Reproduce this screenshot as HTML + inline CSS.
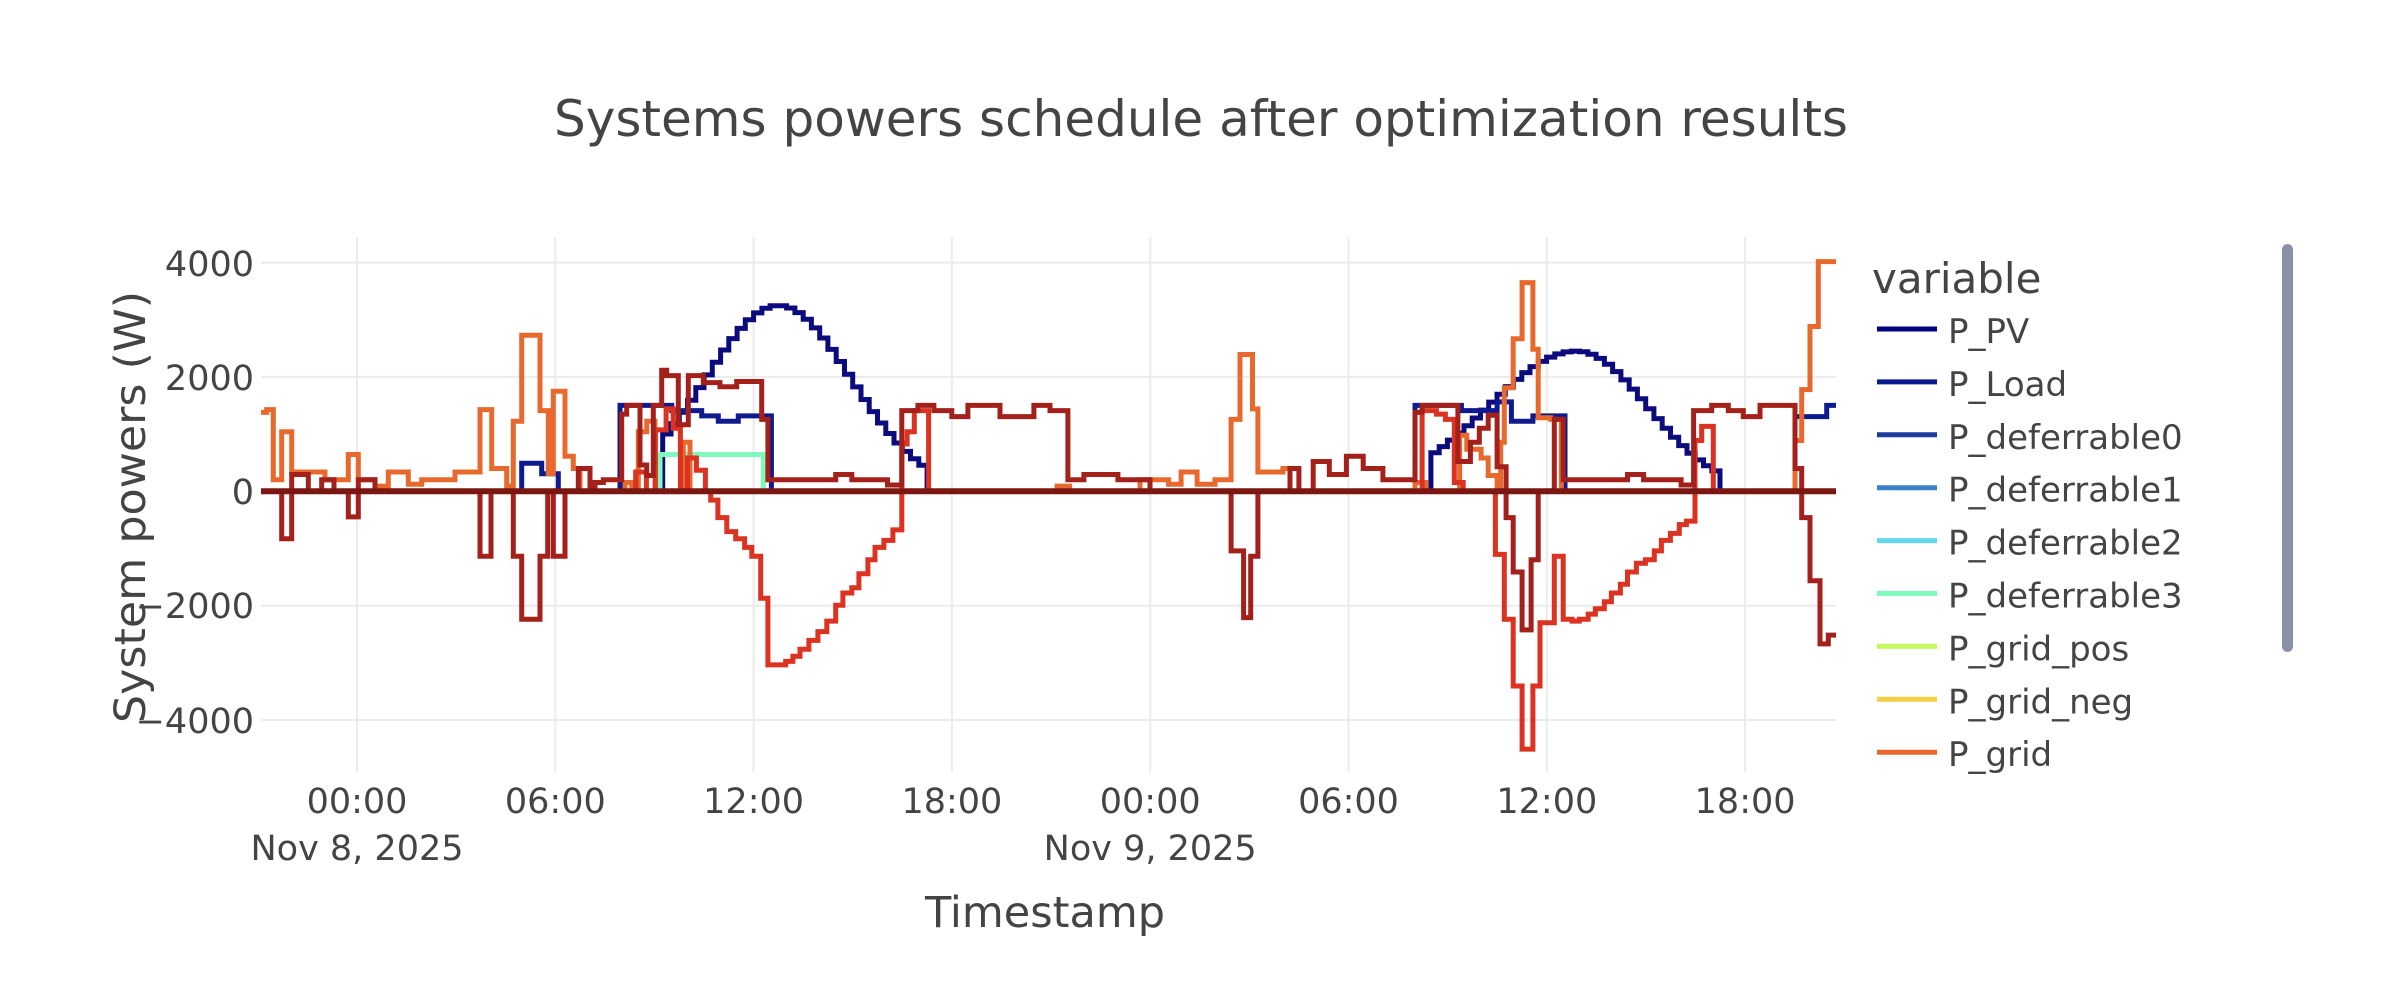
<!DOCTYPE html>
<html><head><meta charset="utf-8">
<style>html,body{margin:0;padding:0;background:#fff;}svg{display:block;}
text{font-family:"DejaVu Sans","Liberation Sans",sans-serif;fill:#444;}</style></head>
<body>
<svg id="s" width="2382" height="984" viewBox="0 0 2382 984" xmlns="http://www.w3.org/2000/svg">
<defs><clipPath id="cp"><rect x="261" y="230" width="1575" height="545"/></clipPath></defs>
<g stroke="#ebebeb" stroke-width="2" fill="none">
<line x1="357" y1="237" x2="357" y2="772"/><line x1="555.3" y1="237" x2="555.3" y2="772"/>
<line x1="753.6" y1="237" x2="753.6" y2="772"/><line x1="951.9" y1="237" x2="951.9" y2="772"/>
<line x1="1150.2" y1="237" x2="1150.2" y2="772"/><line x1="1348.5" y1="237" x2="1348.5" y2="772"/>
<line x1="1546.8" y1="237" x2="1546.8" y2="772"/><line x1="1745.1" y1="237" x2="1745.1" y2="772"/>
<line x1="261" y1="262.6" x2="1836" y2="262.6"/><line x1="261" y1="376.9" x2="1836" y2="376.9"/>
<line x1="261" y1="605.7" x2="1836" y2="605.7"/><line x1="261" y1="720" x2="1836" y2="720"/>
</g>
<g id="series" clip-path="url(#cp)" fill="none" stroke-width="5" stroke-linejoin="miter"></g>
<text x="1201" y="136" font-size="50" text-anchor="middle" textLength="1294" lengthAdjust="spacingAndGlyphs">Systems powers schedule after optimization results</text>
<g font-size="35" text-anchor="end">
<text x="254" y="276">4000</text><text x="254" y="390">2000</text><text x="254" y="504">0</text>
<text x="254" y="618">−2000</text><text x="254" y="733">−4000</text>
</g>
<g font-size="35" text-anchor="middle">
<text x="357" y="813">00:00</text><text x="555.3" y="813">06:00</text><text x="753.6" y="813">12:00</text>
<text x="951.9" y="813">18:00</text><text x="1150.2" y="813">00:00</text><text x="1348.5" y="813">06:00</text>
<text x="1546.8" y="813">12:00</text><text x="1745.1" y="813">18:00</text>
<text x="357" y="860">Nov 8, 2025</text><text x="1150.2" y="860">Nov 9, 2025</text>
</g>
<text x="1045" y="927" font-size="43" text-anchor="middle">Timestamp</text>
<text transform="translate(145,507) rotate(-90)" font-size="43" text-anchor="middle" textLength="432" lengthAdjust="spacingAndGlyphs">System powers (W)</text>
<text x="1872" y="293" font-size="42">variable</text>
<g id="legend" font-size="34"></g>
<rect x="2282" y="244" width="11" height="408" rx="5.5" fill="#8a90a6"/>
</svg>
<script>
(function(){
var NS="http://www.w3.org/2000/svg";
var OFF={3:[255,3],4:[600,2.8],5:[1140,2.8],6:[1380,3]};
function cv(z,zx,zy){return [OFF[z][0]+zx/OFF[z][1],230+zy/2.851];}
function build(list){ // list of [zoom,[[zx,zy],...]]
  var pts=[];list.forEach(function(g){g[1].forEach(function(p){pts.push(cv(g[0],p[0],p[1]));});});
  return pts;}
function pathHV(pts,endX){
  var d="M"+pts[0][0].toFixed(1)+" "+pts[0][1].toFixed(1);
  for(var i=1;i<pts.length;i++){d+=" H"+pts[i][0].toFixed(1)+" V"+pts[i][1].toFixed(1);}
  d+=" H"+endX;return d;}
var G=document.getElementById("series");
function add(d,c,w){var p=document.createElementNS(NS,"path");p.setAttribute("d",d);p.setAttribute("stroke",c);if(w)p.setAttribute("stroke-width",w);G.appendChild(p);}
function yv(v){return 491.3-v*0.05715;}
// PV
function pv(){
  var pts=[[258,yv(0)]],step=8.26;
  for(var x=258;x<1840;x+=step){
    var v=0;
    if(x>=659&&x<927){var w=103;v=3252*Math.exp(-Math.pow((x+step/2-778.6)/w,2));}
    else if(x>=1423&&x<1712){var w2=(x<1577)?125:100;v=2454*Math.exp(-Math.pow((x+step/2-1577)/w2,2));}
    pts.push([x,yv(v)]);}
  return pts;}
add(pathHV(pv(),1840),"#0b0b7e");
// Load
add(pathHV(build([[3,[[10,745],[800,665],[860,695],[910,745],[1095,500],[1250,515],[1340,530],[1390,545],[1450,530]]],[4,[[480,745]]],[5,[[770,500],[900,515],[1000,490],[1040,545],[1100,530],[1190,745]]],[6,[[1245,532],[1340,500]]]]),1840),"#0e1a8e");
// def3
add(pathHV(build([[3,[[10,745],[1215,640],[1525,745]]]]),1840),"#80f9bd");
// grid (orange)
add(pathHV(build([[3,[[10,520],[35,512],[55,712],[80,575],[110,690],[210,712],[280,640],[310,712],[360,730],[400,690],[460,725],[500,712],[600,690],[675,512],[710,680],[755,730],[775,545],[800,300],[855,515],[880,695],[895,460],[930,645],[955,680],[975,745],[1110,720],[1130,745],[1150,575],[1175,545],[1200,745],[1285,605],[1305,745]]],[4,[[1280,730],[1315,745]]],[5,[[0,712],[80,725],[115,690],[160,725],[210,712],[255,540],[280,355],[315,510],[330,690],[400,680],[420,745],[770,720],[800,745],[895,585],[915,625],[955,650],[975,700],[1000,745],[1010,605],[1020,450],[1045,310],[1070,150],[1100,340],[1115,535],[1150,540],[1180,745]]],[6,[[1245,600],[1265,455],[1290,275],[1315,90]]]]),1840),"#e8692e");
// red
add(pathHV(build([[3,[[10,745]]],[4,[[100,690],[130,745],[155,570],[185,510],[205,565],[225,745],[245,650],[270,685],[295,745],[310,770],[330,820],[355,860],[380,880],[405,905],[425,930],[450,1050],[470,1240],[520,1230],[540,1215],[560,1195],[585,1170],[610,1145],[635,1115],[660,1070],[680,1035],[705,1020],[725,980],[750,940],[770,905],[795,885],[820,855],[845,610],[860,575],[880,515],[920,745]]],[5,[[790,515],[830,525],[855,540],[880,720],[905,745],[995,925],[1020,1110],[1045,1300],[1070,1480],[1100,1300],[1120,1120],[1160,930],[1185,1110],[1210,1115],[1230,1110],[1255,1095],[1275,1080],[1300,1060],[1320,1035],[1345,1010],[1365,975],[1390,950],[1415,940],[1440,915],[1460,885],[1485,865],[1510,840],[1530,830]]],[6,[[945,600],[965,560],[1000,745]]]]),1840),"#db3222");
// dark red
add(pathHV(build([[3,[[10,745],[80,880],[110,697],[160,745],[200,712],[237,745],[280,818],[310,712],[360,745],[675,930],[708,745],[775,930],[800,1110],[855,930],[878,745],[895,930],[930,745],[970,680],[1005,745],[1020,720],[1045,712],[1100,525],[1115,500],[1155,670],[1175,700],[1195,500],[1220,400],[1235,415],[1270,555],[1300,415],[1345,435],[1395,447],[1445,432],[1520,540]]],[4,[[470,712],[660,697],[705,712],[805,727],[845,515],[890,500],[935,515],[985,532],[1030,500],[1120,532],[1215,500],[1260,515],[1310,712],[1355,697],[1450,712],[1540,745]]],[5,[[255,915],[290,1105],[310,930],[330,745],[420,680],[445,745],[485,660],[530,697],[578,645],[625,680],[680,712],[770,520],[790,500],[890,660],[925,605],[950,565],[975,528],[1000,675],[1025,820],[1045,975],[1070,1140],[1095,940],[1115,745],[1160,540],[1185,712],[1365,697],[1410,712],[1515,727],[1550,515]]],[6,[[995,500],[1045,515],[1090,532],[1140,500],[1245,680],[1265,820],[1290,1000],[1320,1180],[1345,1155]]]]),1836),"#a4201a");
// zero line
add("M261 491.3 H1836","#7a1711",6);
// legend
var L=document.getElementById("legend");
var items=[["P_PV","#02007f"],["P_Load","#0b1a8c"],["P_deferrable0","#1d3a9e"],["P_deferrable1","#3b7fc6"],["P_deferrable2","#60d8ef"],["P_deferrable3","#80f9bd"],["P_grid_pos","#c6f860"],["P_grid_neg","#f2cf46"],["P_grid","#e8692e"]];
items.forEach(function(it,i){var y=329+i*52.9;
 var l=document.createElementNS(NS,"line");l.setAttribute("x1",1877);l.setAttribute("x2",1937);l.setAttribute("y1",y);l.setAttribute("y2",y);l.setAttribute("stroke",it[1]);l.setAttribute("stroke-width",5);L.appendChild(l);
 var t=document.createElementNS(NS,"text");t.setAttribute("x",1948);t.setAttribute("y",y+14);t.textContent=it[0];L.appendChild(t);});
})();
</script>
</body></html>
